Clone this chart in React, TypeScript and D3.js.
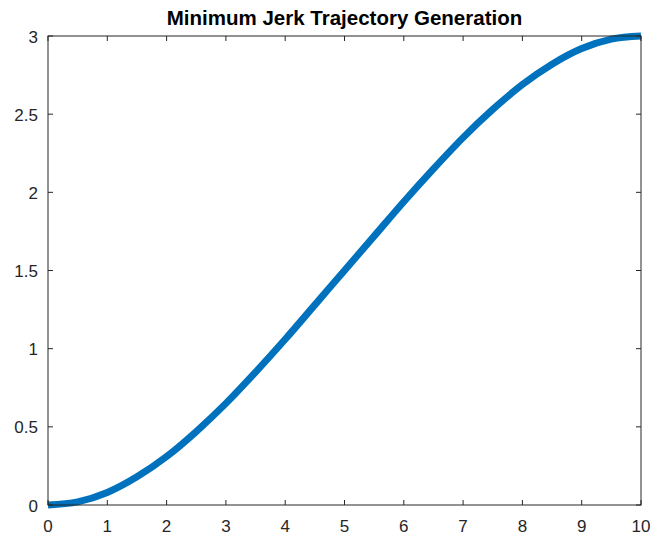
import React from "react";
import * as d3 from "d3";

const tValues = [0, 0.5, 1, 1.5, 2, 2.5, 3, 3.5, 4, 4.5, 5, 5.5, 6, 6.5, 7, 7.5, 8, 8.5, 9, 9.5, 10];
const yValues = [0, 0.02, 0.08, 0.18, 0.31, 0.47, 0.65, 0.85, 1.06, 1.28, 1.5, 1.72, 1.94, 2.15, 2.35, 2.53, 2.69, 2.82, 2.92, 2.98, 3.0];
const xTicks = [0, 1, 2, 3, 4, 5, 6, 7, 8, 9, 10];
const yTicks = [0, 0.5, 1, 1.5, 2, 2.5, 3];
const title = "Minimum Jerk Trajectory Generation";

export default function App() {
  const W = 652, H = 535;
  const L = 48, R = 641, T = 36, B = 505;
  const x = d3.scaleLinear().domain([0, 10]).range([L, R]);
  const y = d3.scaleLinear().domain([0, 3]).range([B, T]);
  const pts = tValues.map((t, i) => [t, yValues[i]] as [number, number]);
  const line = d3.line<[number, number]>().x(d => x(d[0])).y(d => y(d[1])).curve(d3.curveMonotoneX);
  const ax = "#262626";
  const font = "'Liberation Sans', Arial, Helvetica, sans-serif";
  const tl = 5;
  const fs = 17;
  return (
    <svg width={W} height={H} style={{ position: "absolute", left: 0, top: 0, background: "#fff" }}>
      <rect x={0} y={0} width={W} height={H} fill="#fff" />
      <path d={line(pts) || ""} fill="none" stroke="#0072BD" strokeWidth={7} />
      <rect x={L} y={T} width={R - L} height={B - T} fill="none" stroke={ax} strokeWidth={1} />
      {xTicks.map(t => (
        <g key={"x" + t}>
          <line x1={x(t)} x2={x(t)} y1={B} y2={B - tl} stroke={ax} />
          <line x1={x(t)} x2={x(t)} y1={T} y2={T + tl} stroke={ax} />
          <text x={x(t)} y={B + 27} textAnchor="middle" fontSize={fs} fill={ax} fontFamily={font}>{t}</text>
        </g>
      ))}
      {yTicks.map(t => (
        <g key={"y" + t}>
          <line x1={L} x2={L + tl} y1={y(t)} y2={y(t)} stroke={ax} />
          <line x1={R} x2={R - tl} y1={y(t)} y2={y(t)} stroke={ax} />
          <text x={L - 10} y={y(t) + 6.5} textAnchor="end" fontSize={fs} fill={ax} fontFamily={font}>{t}</text>
        </g>
      ))}
      <text x={(L + R) / 2} y={25} textAnchor="middle" fontSize={20.5} fontWeight="bold" fill="#000" fontFamily={font}>{title}</text>
    </svg>
  );
}
